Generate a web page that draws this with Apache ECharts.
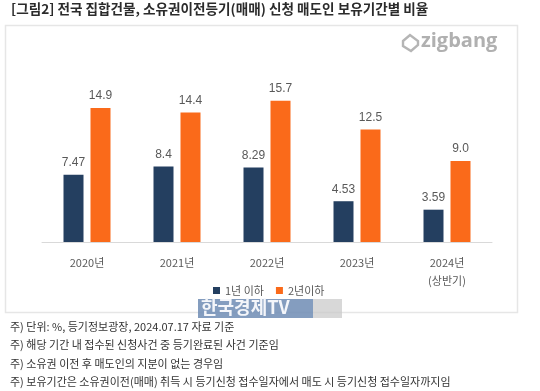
<!DOCTYPE html>
<html><head><meta charset="utf-8">
<script src="https://cdn.jsdelivr.net/npm/echarts@6/dist/echarts.min.js"></script>
<style>html,body{margin:0;padding:0;background:#fff;}#c{width:540px;height:391px;}</style>
</head><body><div id="c"></div>
<script>
var categories = ['2020년', '2021년', '2022년', '2023년', '2024년\n(상반기)'];
var oneYear = [7.47, 8.4, 8.29, 4.53, 3.59];
var twoYear = [14.9, 14.4, 15.7, 12.5, 9.0];
var oneYearLabels = ['7.47', '8.4', '8.29', '4.53', '3.59'];
var twoYearLabels = ['14.9', '14.4', '15.7', '12.5', '9.0'];
var seriesNames = ['1년 이하', '2년이하'];
var title = '[그림2] 전국 집합건물, 소유권이전등기(매매) 신청 매도인 보유기간별 비율';
var notes = [
  '주) 단위: %, 등기정보광장, 2024.07.17 자료 기준',
  '주) 해당 기간 내 접수된 신청사건 중 등기완료된 사건 기준임',
  '주) 소유권 이전 후 매도인의 지분이 없는 경우임',
  '주) 보유기간은 소유권이전(매매) 취득 시 등기신청 접수일자에서 매도 시 등기신청 접수일자까지임'
];
var font = '"Noto Sans CJK KR", "Noto Sans", sans-serif';
var chart = echarts.init(document.getElementById('c'));
var noteGraphics = notes.map(function (t, i) {
  return {type: 'text', left: 10, top: 321 + i * 18.5, z: 10,
    style: {text: t, fill: '#333', font: '11px ' + font}};
});
function lbl(arr) {
  return {show: true, position: 'top', distance: 6, color: '#595959', fontSize: 12, fontFamily: 'Liberation Sans, Arial, sans-serif',
    formatter: function (p) { return arr[p.dataIndex]; }};
}
chart.setOption({
  animation: false,
  textStyle: {fontFamily: font},
  grid: {left: 42, right: 48, top: 80, bottom: 149},
  legend: {data: seriesNames, left: 208, top: 280, itemWidth: 7, itemHeight: 7, itemGap: 12, z: 20,
    textStyle: {color: '#595959', fontSize: 11, fontFamily: font}, icon: 'rect'},
  xAxis: {type: 'category', data: categories,
    axisLine: {lineStyle: {color: '#d9d9d9'}}, axisTick: {show: false},
    axisLabel: {color: '#595959', fontSize: 11, margin: 12, lineHeight: 18, fontFamily: font}},
  yAxis: {type: 'value', min: 0, max: 18, show: false, splitLine: {show: false}},
  series: [
    {name: seriesNames[0], type: 'bar', data: oneYear, barWidth: 20, barGap: '35%',
      itemStyle: {color: '#243F60'}, label: lbl(oneYearLabels)},
    {name: seriesNames[1], type: 'bar', data: twoYear, barWidth: 20,
      itemStyle: {color: '#FA6A1A'}, label: lbl(twoYearLabels)}
  ],
  graphic: [
    {type: 'rect', shape: {x: 5.5, y: 25.5, width: 512, height: 287}, z: -10,
      style: {fill: '#fff', stroke: '#e6e6e6', lineWidth: 1.5}},
    {type: 'text', left: 11, top: 2, style: {text: title, fill: '#2b2b2b', font: 'bold 13.6px ' + font}},
    {type: 'polygon', shape: {points: [[403, 41], [410, 35], [418, 41], [418, 45], [411, 51], [403, 46]]},
      style: {fill: 'none', stroke: '#b5b5b5', lineWidth: 2.4}},
    {type: 'text', left: 421, top: 31, style: {text: 'zigbang', fill: '#b0b0b0', font: 'bold 20px "Open Sans", "DejaVu Sans", sans-serif'}},
    {type: 'rect', shape: {x: 198, y: 299, width: 115, height: 19}, z: 5, style: {fill: 'rgba(110,140,180,0.85)'}},
    {type: 'rect', shape: {x: 313, y: 299, width: 29, height: 19}, z: 5, style: {fill: 'rgba(200,200,200,0.7)'}},
    {type: 'text', left: 201, top: 298, z: 6, style: {text: '한국경제TV', fill: '#f4f6fa', font: 'bold 18px ' + font}}
  ].concat(noteGraphics)
});
</script></body></html>
